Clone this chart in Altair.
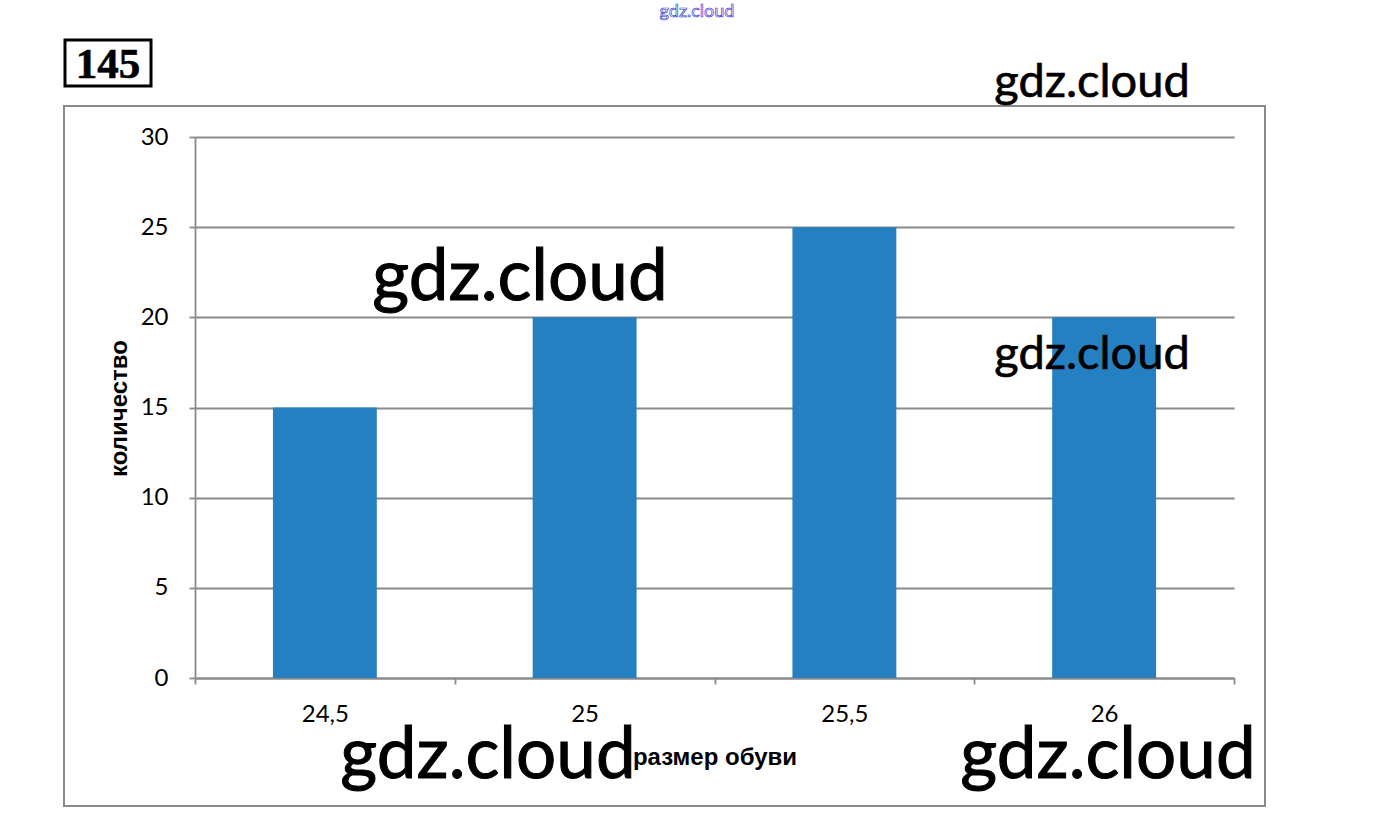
import altair as alt
import pandas as pd

# Shoe sizes and how many pairs of each
sizes = ["24,5", "25", "25,5", "26"]
counts = [15, 20, 25, 20]
y_ticks = [0, 5, 10, 15, 20, 25, 30]

df = pd.DataFrame({"size": sizes, "count": counts})

W, H = 1039, 541          # plot area
LEFT, TOP = 195, 137      # plot area offset inside the page
GRID = "#8a8a8a"
BLUE = "#2580c1"
one = pd.DataFrame({"k": [0]})

bars = alt.Chart(df).mark_bar(color=BLUE, width=alt.RelativeBandSize(0.4)).encode(
    x=alt.X(
        "size:N",
        sort=None,
        scale=alt.Scale(paddingInner=0, paddingOuter=0),
        axis=alt.Axis(
            title="размер обуви",
            labelAngle=0,
            tickBand="extent",
            tickSize=6,
            tickColor=GRID,
            tickWidth=1.8,
            domainColor=GRID,
            domainWidth=1.8,
            grid=False,
            labelFont="Lato",
            labelFontSize=24,
            labelColor="#000000",
            labelPadding=18,
            titleFont="Liberation Sans",
            titleFontWeight="bold",
            titleFontSize=24,
            titleColor="#000000",
            titleBaseline="alphabetic",
            titleY=86,
        ),
    ),
    y=alt.Y(
        "count:Q",
        scale=alt.Scale(domain=[0, 30], nice=False),
        axis=alt.Axis(
            title="количество",
            values=y_ticks,
            grid=True,
            gridColor=GRID,
            gridWidth=1.8,
            tickSize=6,
            tickColor=GRID,
            tickWidth=1.8,
            domainColor=GRID,
            domainWidth=1.8,
            labelFont="Lato",
            labelFontSize=24,
            labelColor="#000000",
            labelPadding=21,
            titleFont="Liberation Sans",
            titleFontWeight="bold",
            titleFontSize=24,
            titleColor="#000000",
            titleBaseline="middle",
            titleX=-76,
            titleY=271,
        ),
    ),
)

# Outer frame of the chart
frame = alt.Chart(one).mark_rect(filled=False, stroke="#8a8a8a", strokeWidth=2).encode(
    x=alt.value(-131), x2=alt.value(1070), y=alt.value(-31), y2=alt.value(669)
)

# Exercise number in a box
num_box = alt.Chart(one).mark_rect(filled=False, stroke="#000000", strokeWidth=3).encode(
    x=alt.value(-130), x2=alt.value(-44), y=alt.value(-97), y2=alt.value(-51)
)
num_text = alt.Chart(one).mark_text(
    text="145", font="Liberation Serif", fontWeight="bold", fontSize=43,
    align="center", baseline="alphabetic", fill="#000000",
    stroke="#000000", strokeWidth=0.6
).encode(x=alt.value(-87), y=alt.value(-59))


def mark_wm(x, y, size):
    return alt.Chart(one).mark_text(
        text="gdz.cloud", font="Lato", fontSize=size,
        align="center", baseline="alphabetic", fill="#000000",
        stroke="#000000", strokeWidth=size / 70
    ).encode(x=alt.value(x), y=alt.value(y))


wm = [
    mark_wm(325, 163, 71),
    mark_wm(897, -40, 47),
    mark_wm(897, 232, 47),
    mark_wm(293, 641, 71),
    mark_wm(913, 641, 71),
]

wm_top = alt.Chart(one).mark_text(
    text="gdz.cloud", font="Lato", fontSize=18, align="center", baseline="alphabetic",
    fill="#ffffff", stroke="#3a3ad0", strokeWidth=0.7
).encode(x=alt.value(502), y=alt.value(-120))

chart = alt.layer(bars, frame, num_box, num_text, *wm, wm_top).properties(
    width=W,
    height=H,
    padding={"left": LEFT, "top": TOP, "right": 1392 - LEFT - W, "bottom": 839 - TOP - H},
    autosize=alt.AutoSizeParams(type="none"),
    background="#ffffff",
).configure_view(strokeWidth=0)

chart.save("out.html", embed_options={"renderer": "svg", "actions": False})
